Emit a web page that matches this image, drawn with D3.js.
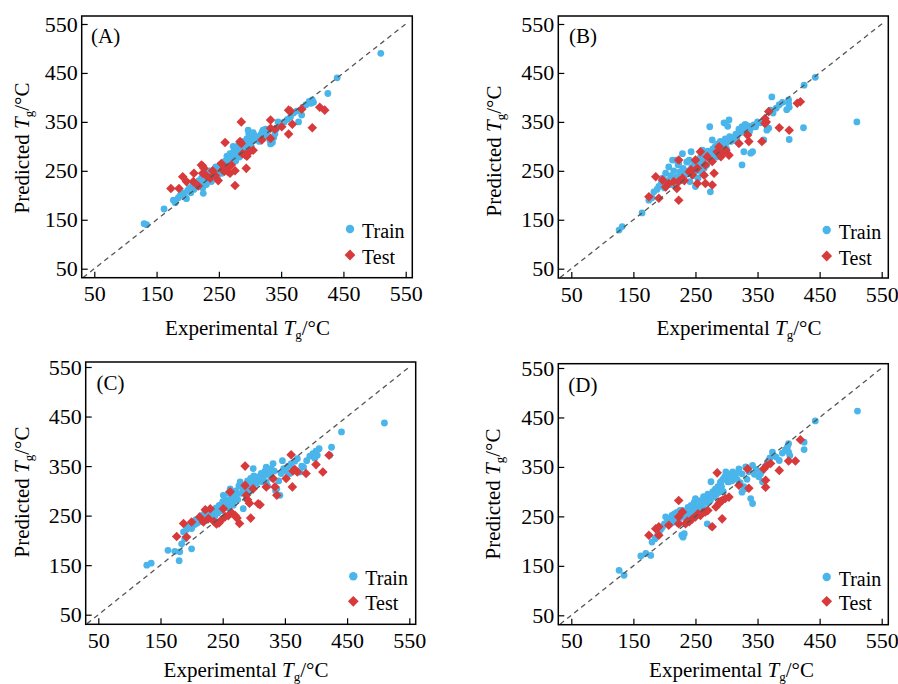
<!DOCTYPE html>
<html>
<head>
<meta charset="utf-8">
<script src="https://cdn.jsdelivr.net/npm/d3@7"></script>
<style>
  body { margin: 0; background: #fff; }
  svg { display: block; }
  text { font-family: "Liberation Serif", "Times New Roman", serif; fill: #000; }
</style>
</head>
<body>
<svg id="chart" width="898" height="684"></svg>
<script>
// tick values shared by every panel
const tickValues = [50, 150, 250, 350, 450, 550];
const diagEnds = [32, 552];

// Panel A (experimental, predicted)
const trainA = [[130,142],[134,140],[162,172],[177,190],[180,185],[185,195],[188,200],[192,205],[195,198],[198,193],[200,210],[203,215],[205,205],[208,220],[210,212],[212,225],[215,218],[218,230],[220,222],[222,235],[224,215],[225,204],[227,228],[228,240],[230,222],[232,245],[234,230],[235,250],[237,238],[238,228],[240,245],[242,252],[244,236],[245,258],[247,248],[248,240],[250,255],[252,262],[254,250],[255,245],[257,265],[258,255],[260,270],[262,260],[263,280],[265,272],[266,262],[268,285],[270,275],[271,268],[273,300],[274,290],[275,280],[277,270],[278,295],[280,288],[282,305],[283,278],[285,295],[287,300],[288,285],[290,310],[291,298],[293,290],[295,315],[296,305],[297,333],[298,325],[300,320],[300,310],[302,300],[303,318],[305,328],[306,312],[308,322],[310,315],[312,318],[315,310],[318,325],[320,330],[321,333],[323,320],[325,335],[327,328],[330,320],[332,312],[333,305],[335,315],[336,308],[338,318],[340,325],[342,335],[345,350],[348,342],[350,345],[355,350],[360,355],[365,360],[370,368],[375,372],[378,350],[383,364],[385,380],[390,385],[395,392],[398,388],[400,395],[402,390],[425,408],[440,440],[510,490]];
const testA = [[173,214],[186,214],[192,238],[198,228],[209,228],[210,245],[217,219],[222,262],[224,260],[226,255],[224,245],[230,240],[236,235],[240,250],[244,241],[249,230],[254,265],[256,252],[259,249],[262,255],[265,248],[268,245],[270,262],[276,250],[276,220],[260,308],[284,310],[286,306],[286,350],[288,285],[292,283],[295,280],[294,255],[300,290],[305,292],[319,313],[333,354],[333,337],[333,316],[340,335],[351,340],[362,374],[365,372],[362,325],[368,345],[383,376],[400,338],[412,380],[420,374]];

// Panel B
const trainB = [[127,129],[132,136],[164,164],[175,190],[180,195],[183,207],[188,212],[191,218],[195,225],[197,235],[200,215],[202,245],[205,230],[207,258],[210,240],[212,222],[213,272],[215,250],[218,272],[220,238],[222,262],[223,265],[225,248],[227,230],[229,285],[230,255],[232,242],[234,245],[236,268],[238,250],[240,272],[241,228],[243,289],[244,258],[246,240],[248,265],[250,218],[251,250],[253,272],[254,235],[256,260],[258,278],[260,245],[261,292],[262,268],[264,255],[266,280],[268,262],[270,290],[272,286],[273,340],[274,207],[275,272],[277,313],[278,295],[280,285],[282,300],[284,278],[286,305],[288,292],[290,310],[292,300],[294,299],[296,348],[298,315],[299,306],[300,295],[302,341],[304,354],[305,320],[307,310],[310,318],[312,313],[315,325],[317,320],[320,335],[322,328],[325,340],[325,262],[327,332],[328,289],[330,345],[332,338],[335,342],[337,330],[339,286],[339,337],[342,289],[344,344],[347,340],[350,350],[355,348],[360,313],[363,345],[365,333],[368,337],[371,374],[373,401],[375,368],[380,378],[385,385],[390,390],[397,375],[400,395],[400,388],[401,380],[401,314],[424,338],[425,425],[443,441],[510,350]];
const testB = [[175,197],[186,238],[191,194],[197,231],[202,217],[207,224],[215,228],[220,214],[223,190],[223,228],[223,272],[229,235],[232,230],[240,248],[243,252],[245,242],[250,272],[253,255],[253,224],[258,289],[264,241],[266,262],[266,224],[269,279],[277,221],[277,269],[280,245],[285,289],[288,299],[291,279],[292,285],[299,292],[304,282],[320,306],[334,323],[336,310],[357,310],[362,357],[364,350],[362,347],[368,371],[385,338],[401,333],[414,388],[419,391]];

// Panel C
const trainC = [[128,150],[135,154],[162,180],[173,178],[180,159],[181,177],[184,193],[187,217],[189,203],[192,222],[195,227],[198,230],[200,183],[200,224],[203,237],[205,232],[207,242],[209,235],[211,244],[213,238],[215,250],[217,242],[219,247],[221,255],[223,240],[225,258],[227,251],[229,246],[231,260],[233,252],[235,257],[237,248],[239,265],[240,264],[242,255],[244,270],[246,271],[248,260],[250,278],[251,291],[253,268],[255,282],[257,275],[259,295],[260,265],[262,304],[264,285],[266,278],[267,271],[269,292],[271,300],[272,291],[274,282],[276,310],[278,318],[280,295],[282,305],[283,264],[285,300],[287,312],[288,284],[290,320],[291,304],[293,298],[295,325],[297,318],[298,310],[299,345],[300,330],[302,322],[304,315],[306,328],[308,320],[310,325],[312,335],[314,318],[316,330],[318,340],[320,348],[320,318],[322,310],[324,335],[326,331],[328,345],[330,325],[331,355],[333,340],[335,300],[337,304],[340,320],[342,291],[344,335],[346,361],[348,345],[352,340],[355,350],[358,335],[360,355],[363,345],[366,360],[370,365],[374,338],[377,350],[380,348],[385,361],[390,370],[395,375],[398,366],[400,380],[402,372],[405,385],[422,372],[425,388],[441,419],[510,437]];
const testC = [[176,208],[187,234],[192,207],[200,237],[213,247],[219,237],[222,262],[227,244],[230,264],[236,238],[240,233],[244,235],[248,241],[251,264],[254,248],[259,250],[262,298],[265,255],[270,250],[273,245],[277,234],[286,350],[286,311],[288,291],[290,282],[293,275],[295,245],[299,304],[307,274],[310,272],[320,308],[331,325],[334,308],[337,291],[352,325],[360,373],[362,308],[363,340],[366,343],[370,338],[384,335],[400,353],[411,338],[421,372]];

// Panel D
const trainD = [[127,141],[135,131],[162,170],[170,175],[178,171],[180,198],[185,205],[189,212],[192,220],[195,225],[197,229],[200,235],[202,249],[205,240],[207,239],[210,245],[212,252],[214,238],[216,255],[218,245],[220,258],[222,240],[223,235],[225,262],[227,248],[228,212],[229,262],[230,208],[232,215],[233,255],[234,252],[236,245],[238,268],[240,259],[241,250],[243,272],[245,265],[246,255],[248,279],[250,286],[251,262],[253,270],[255,260],[256,272],[258,282],[260,275],[261,279],[263,290],[264,265],[266,286],[268,278],[269,235],[270,295],[272,293],[274,282],[275,320],[276,229],[278,300],[280,290],[282,305],[284,295],[286,310],[288,306],[288,299],[290,318],[291,320],[292,310],[294,325],[295,300],[297,330],[299,340],[299,333],[300,326],[302,320],[304,320],[305,335],[307,328],[309,322],[310,340],[312,330],[315,336],[317,325],[320,346],[322,318],[325,336],[325,299],[328,310],[331,350],[331,306],[333,325],[336,340],[339,286],[342,276],[342,353],[345,335],[348,345],[352,330],[355,336],[358,343],[358,320],[362,350],[365,355],[368,363],[370,368],[374,380],[376,373],[380,370],[385,363],[390,378],[395,385],[398,390],[400,397],[400,380],[402,373],[425,400],[425,385],[443,443],[511,463]];
const testD = [[175,212],[186,225],[191,229],[191,212],[207,232],[223,282],[223,249],[223,235],[229,259],[234,235],[237,240],[240,239],[245,245],[250,249],[254,255],[258,252],[262,258],[266,259],[270,262],[277,229],[283,269],[285,338],[288,276],[290,280],[293,282],[293,245],[298,286],[304,289],[320,313],[334,346],[336,307],[363,323],[363,309],[360,346],[365,353],[371,357],[385,343],[400,362],[411,362],[419,405]];

const blue = "#4ab5ea";
const red = "#d83a3c";

// layout of each panel (pixel positions of the frame and of the 50/550 ticks)
const panels = [
  { label: "(A)", train: trainA, test: testA,
    box: [81.7, 16, 412.3, 277.7], xr: [94.3, 405.7], yr: [268.7, 24],
    tag: [91, 43], xt: [247.5, 335], yt: [29, 148], leg: [350, 229, 255] },
  { label: "(B)", train: trainB, test: testB,
    box: [558.3, 16, 888.3, 278], xr: [571.3, 881.7], yr: [268.7, 24],
    tag: [569, 43], xt: [739, 335], yt: [501, 151], leg: [826.7, 230, 256] },
  { label: "(C)", train: trainC, test: testC,
    box: [85.7, 362, 415.7, 624.3], xr: [98.3, 409.3], yr: [614.7, 367],
    tag: [96.5, 390], xt: [246, 677], yt: [29, 492], leg: [353.3, 576.3, 601.3] },
  { label: "(D)", train: trainD, test: testD,
    box: [558.3, 363.7, 888.3, 624.7], xr: [571.3, 881.7], yr: [615.3, 368],
    tag: [568.3, 392], xt: [731.5, 677], yt: [500, 494], leg: [826.7, 577, 601.3] }
];

const svg = d3.select("#chart");
const diamond = d3.symbol().type(d3.symbolSquare).size(46);
const diamondLeg = d3.symbol().type(d3.symbolSquare).size(58);

function tgTitle(sel, prefix) {
  sel.append("tspan").text(prefix);
  sel.append("tspan").attr("font-style", "italic").text("T");
  sel.append("tspan").attr("font-size", "13px").attr("dy", 4).text("g");
  sel.append("tspan").attr("dy", -4).text("/\u00b0C");
}

panels.forEach(p => {
  const [x0, y0, x1, y1] = p.box;
  const x = d3.scaleLinear().domain([50, 550]).range(p.xr);
  const y = d3.scaleLinear().domain([50, 550]).range(p.yr);
  const g = svg.append("g");

  // axes (ticks point inward)
  const xa = g.append("g")
    .attr("transform", `translate(0,${y1})`)
    .call(d3.axisBottom(x).tickValues(tickValues).tickSizeInner(-6).tickSizeOuter(0).tickPadding(8));
  const ya = g.append("g")
    .attr("transform", `translate(${x0},0)`)
    .call(d3.axisLeft(y).tickValues(tickValues).tickSizeInner(-6).tickSizeOuter(0).tickPadding(4));
  [xa, ya].forEach(a => {
    a.select(".domain").remove();
    a.selectAll("line").attr("stroke", "#000").attr("stroke-width", 1.2);
    a.selectAll("text").attr("font-size", "22px").attr("font-family", "Liberation Serif").attr("fill", "#000");
  });

  // points
  g.append("g").selectAll("circle")
    .data(p.train).join("circle")
    .attr("cx", d => x(d[0])).attr("cy", d => y(d[1]))
    .attr("r", 3.4).attr("fill", blue);
  g.append("g").selectAll("path")
    .data(p.test).join("path")
    .attr("d", diamond)
    .attr("transform", d => `translate(${x(d[0])},${y(d[1])}) rotate(45)`)
    .attr("fill", red);

  // y = x reference line
  g.append("line")
    .attr("x1", x(diagEnds[0])).attr("y1", y(diagEnds[0]))
    .attr("x2", x(diagEnds[1])).attr("y2", y(diagEnds[1]))
    .attr("stroke", "#555").attr("stroke-width", 1.3)
    .attr("stroke-dasharray", "5,4");

  // frame
  g.append("rect")
    .attr("x", x0).attr("y", y0)
    .attr("width", x1 - x0).attr("height", y1 - y0)
    .attr("fill", "none").attr("stroke", "#000").attr("stroke-width", 1.5);

  // panel tag
  g.append("text").attr("x", p.tag[0]).attr("y", p.tag[1])
    .attr("font-size", "21px").text(p.label);

  // legend
  const [lx, ly1, ly2] = p.leg;
  g.append("circle").attr("cx", lx).attr("cy", ly1).attr("r", 4.2).attr("fill", blue);
  g.append("path").attr("d", diamondLeg)
    .attr("transform", `translate(${lx},${ly2}) rotate(45)`).attr("fill", red);
  g.append("text").attr("x", lx + 12).attr("y", ly1 + 8.5).attr("font-size", "20px").text("Train");
  g.append("text").attr("x", lx + 12).attr("y", ly2 + 8.5).attr("font-size", "20px").text("Test");

  // axis titles
  g.append("text").attr("x", p.xt[0]).attr("y", p.xt[1])
    .attr("text-anchor", "middle").attr("font-size", "21px")
    .call(tgTitle, "Experimental ");
  g.append("text")
    .attr("transform", `translate(${p.yt[0]},${p.yt[1]}) rotate(-90)`)
    .attr("text-anchor", "middle").attr("font-size", "21px")
    .call(tgTitle, "Predicted ");
});
</script>
</body>
</html>
